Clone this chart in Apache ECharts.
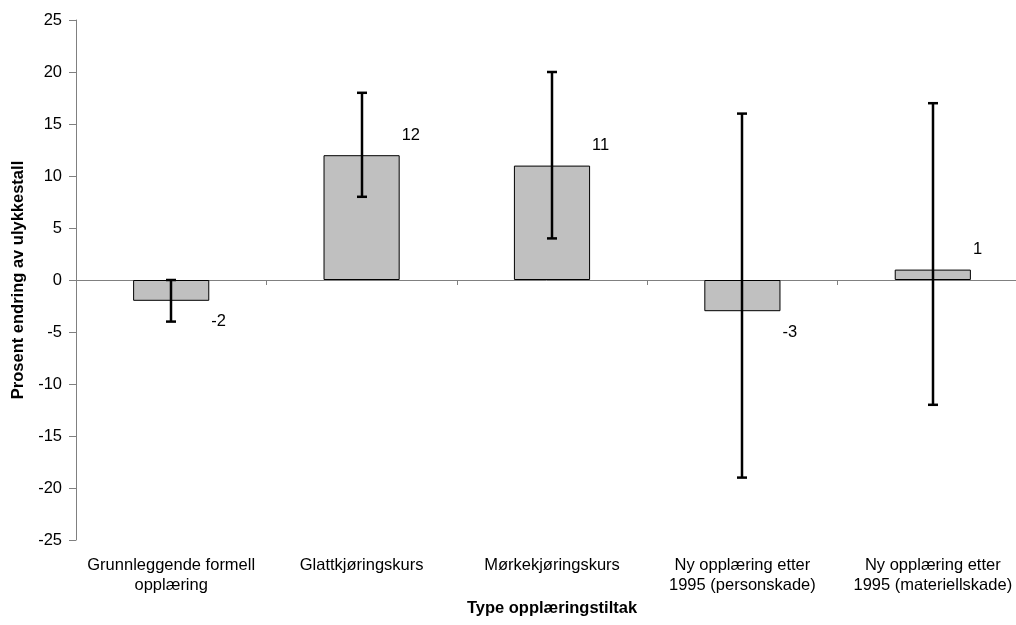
<!DOCTYPE html>
<html>
<head>
<meta charset="utf-8">
<script src="https://cdn.jsdelivr.net/npm/echarts@6/dist/echarts.min.js"></script>
<style>
html,body{margin:0;padding:0;background:#fff;}
#c{width:1016px;height:625px;}
</style>
</head>
<body>
<div id="c"></div>
<script>
const categories = ['Grunnleggende formell\nopplæring', 'Glattkjøringskurs', 'Mørkekjøringskurs', 'Ny opplæring etter\n1995 (personskade)', 'Ny opplæring etter\n1995 (materiellskade)'];
const values = [-2, 12, 11, -3, 1];
const errLow = [-4, 8, 4, -19, -12];
const errHigh = [0, 18, 20, 16, 17];
const yTicks = { min: -25, max: 25, interval: 5 };
const yTitle = 'Prosent endring av ulykkestall';
const xTitle = 'Type opplæringstiltak';

const FONT = '"Liberation Sans", Arial, sans-serif';
const FS = 16.5;
const chart = echarts.init(document.getElementById('c'), null, { renderer: 'canvas' });

const errData = categories.map((c, i) => [i, errLow[i], errHigh[i], values[i]]);

chart.setOption({
  animation: false,
  backgroundColor: '#fff',
  textStyle: { fontFamily: FONT },
  grid: { left: 76, right: -12, top: 20, bottom: 85, containLabel: false, outerBoundsMode: 'none' },
  xAxis: [
    {
      type: 'category', data: categories, position: 'bottom',
      axisLine: { show: true, onZero: true, lineStyle: { color: '#808080', width: 1 } },
      axisTick: { show: true, length: 5, inside: false, lineStyle: { color: '#808080' } },
      axisLabel: { show: false },
      splitLine: { show: false }
    },
    {
      type: 'category', data: categories, position: 'bottom',
      axisLine: { show: false, onZero: false },
      axisTick: { show: false },
      axisLabel: { show: true, color: '#000', fontSize: FS, fontFamily: FONT, lineHeight: 20, margin: 15, interval: 0 },
      name: xTitle, nameLocation: 'middle', nameGap: 56,
      nameTextStyle: { fontSize: FS, fontWeight: 'bold', color: '#000', fontFamily: FONT, verticalAlign: 'top' }
    }
  ],
  yAxis: {
    type: 'value', min: yTicks.min, max: yTicks.max, interval: yTicks.interval,
    axisLine: { show: true, lineStyle: { color: '#808080', width: 1 } },
    axisTick: { show: true, length: 7, lineStyle: { color: '#808080' } },
    axisLabel: { color: '#000', fontSize: FS, fontFamily: FONT, margin: 14 },
    splitLine: { show: false },
    name: yTitle, nameLocation: 'middle', nameGap: 49, nameRotate: 90,
    nameTextStyle: { fontSize: FS, fontWeight: 'bold', color: '#000', fontFamily: FONT }
  },
  series: [
    {
      type: 'bar', xAxisIndex: 0, data: values, barWidth: '40%',
      itemStyle: { color: '#c0c0c0', borderColor: '#000', borderWidth: 1 },
      z: 2
    },
    {
      type: 'custom', xAxisIndex: 0, data: errData, z: 5,
      renderItem: function (params, api) {
        const i = api.value(0);
        const lo = api.value(1), hi = api.value(2), v = api.value(3);
        const pLo = api.coord([i, lo]);
        const pHi = api.coord([i, hi]);
        const pV = api.coord([i, v]);
        const bw = api.size([1, 0])[0];
        const barHalf = bw * 0.4 / 2;
        const cap = 5;
        const st = { stroke: '#000', lineWidth: 2.5 };
        const x = Math.round(pLo[0]);
        const ty = v >= 0 ? pV[1] - 20 : pV[1] + 21;
        return {
          type: 'group',
          children: [
            { type: 'line', shape: { x1: x, y1: pLo[1], x2: x, y2: pHi[1] }, style: st },
            { type: 'line', shape: { x1: x - cap, y1: pLo[1], x2: x + cap, y2: pLo[1] }, style: st },
            { type: 'line', shape: { x1: x - cap, y1: pHi[1], x2: x + cap, y2: pHi[1] }, style: st },
            { type: 'text', x: pV[0] + barHalf + 2, y: ty,
              style: { text: String(v), fill: '#000', font: FS + 'px ' + FONT, textAlign: 'left', textVerticalAlign: 'middle' } }
          ]
        };
      }
    }
  ]
});
</script>
</body>
</html>
